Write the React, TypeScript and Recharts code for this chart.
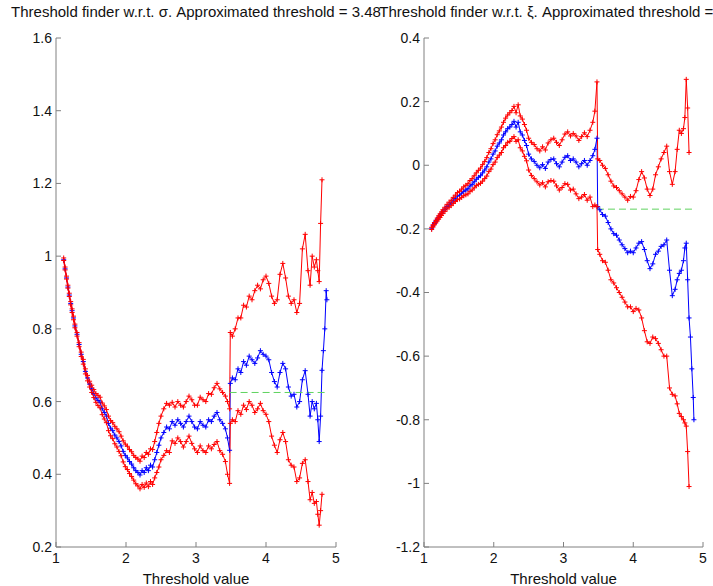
import React from 'react';
import { LineChart, Line, XAxis, YAxis, ReferenceLine } from 'recharts';

const thresholds = [
  1.11, 1.13, 1.15, 1.17, 1.19, 1.21, 1.23, 1.25, 1.27, 1.30,
  1.33, 1.36, 1.39, 1.42, 1.45, 1.48, 1.51, 1.54, 1.57, 1.60,
  1.63, 1.66, 1.69, 1.72, 1.75, 1.78, 1.81, 1.84, 1.87, 1.90,
  1.93, 1.96, 1.99, 2.02, 2.05, 2.08, 2.11, 2.14, 2.17, 2.20,
  2.23, 2.26, 2.29, 2.32, 2.35, 2.38, 2.41, 2.44, 2.47, 2.50,
  2.54, 2.58, 2.62, 2.66, 2.70, 2.74, 2.78, 2.82, 2.86, 2.90,
  2.94, 2.98, 3.02, 3.06, 3.10, 3.14, 3.18, 3.22, 3.26, 3.30,
  3.34, 3.38, 3.42, 3.45, 3.48, 3.49, 3.52, 3.56, 3.60, 3.64,
  3.68, 3.72, 3.76, 3.80, 3.84, 3.88, 3.92, 3.96, 4.00, 4.04,
  4.08, 4.12, 4.16, 4.20, 4.24, 4.28, 4.32, 4.36, 4.40, 4.44,
  4.48, 4.52, 4.56, 4.60, 4.63, 4.66, 4.69, 4.72, 4.74, 4.76,
  4.78, 4.80, 4.82, 4.84, 4.86, 4.87,
];

const sigmaFit = [
  0.99, 0.965, 0.94, 0.915, 0.893, 0.87, 0.85, 0.83, 0.808, 0.785,
  0.757, 0.73, 0.71, 0.683, 0.665, 0.648, 0.635, 0.622, 0.61, 0.603,
  0.598, 0.58, 0.57, 0.56, 0.54, 0.527, 0.52, 0.508, 0.5, 0.49,
  0.478, 0.463, 0.452, 0.445, 0.435, 0.428, 0.418, 0.41, 0.405, 0.398,
  0.41, 0.405, 0.418, 0.41, 0.425, 0.42, 0.44, 0.46, 0.48, 0.5,
  0.515, 0.53, 0.525, 0.545, 0.535, 0.55, 0.54, 0.53, 0.545, 0.56,
  0.545, 0.53, 0.525, 0.545, 0.535, 0.53, 0.55, 0.545, 0.56, 0.57,
  0.55, 0.54, 0.525, 0.5, 0.466, 0.65, 0.665, 0.66, 0.69, 0.68,
  0.71, 0.7, 0.725, 0.715, 0.705, 0.72, 0.74, 0.73, 0.725, 0.715,
  0.68, 0.655, 0.64, 0.68, 0.705, 0.69, 0.64, 0.615, 0.62, 0.585,
  0.6, 0.66, 0.685, 0.62, 0.56, 0.6, 0.58, 0.595, 0.55, 0.49,
  0.56, 0.686, 0.74, 0.8, 0.905, 0.88,
];

const sigmaUpper = [
  0.995, 0.97, 0.945, 0.92, 0.898, 0.875, 0.855, 0.835, 0.813, 0.79,
  0.762, 0.736, 0.716, 0.69, 0.672, 0.656, 0.645, 0.633, 0.622, 0.617,
  0.612, 0.596, 0.588, 0.578, 0.56, 0.548, 0.542, 0.532, 0.525, 0.517,
  0.505, 0.492, 0.483, 0.477, 0.468, 0.462, 0.452, 0.446, 0.442, 0.436,
  0.45, 0.446, 0.46, 0.455, 0.47, 0.468, 0.49, 0.515, 0.54, 0.56,
  0.58, 0.595, 0.59, 0.598, 0.585, 0.6, 0.59, 0.585, 0.6, 0.615,
  0.605, 0.59, 0.59, 0.612, 0.605, 0.6, 0.622, 0.62, 0.638, 0.65,
  0.635, 0.625, 0.615, 0.6, 0.58, 0.79, 0.78, 0.8, 0.83, 0.83,
  0.865, 0.86, 0.89, 0.88, 0.905, 0.92, 0.91, 0.935, 0.945, 0.925,
  0.89, 0.87, 0.88, 0.95, 0.98, 0.94, 0.89, 0.87, 0.88, 0.845,
  0.87, 1.02, 1.06, 0.96, 0.92, 1.0, 0.97, 0.99, 0.96, 0.93,
  1.09, 1.21, null, null, null, null,
];

const sigmaLower = [
  0.988, 0.962, 0.937, 0.912, 0.889, 0.866, 0.845, 0.825, 0.803, 0.78,
  0.751, 0.724, 0.703, 0.676, 0.657, 0.64, 0.625, 0.611, 0.598, 0.589,
  0.583, 0.564, 0.552, 0.542, 0.52, 0.506, 0.498, 0.484, 0.475, 0.463,
  0.451, 0.434, 0.421, 0.413, 0.402, 0.394, 0.384, 0.374, 0.368, 0.36,
  0.372, 0.364, 0.376, 0.366, 0.38, 0.372, 0.39, 0.405, 0.42, 0.44,
  0.452, 0.465, 0.46, 0.492, 0.485, 0.5, 0.49, 0.475, 0.49, 0.505,
  0.485, 0.47, 0.46, 0.478, 0.465, 0.46, 0.478, 0.47, 0.482, 0.49,
  0.465, 0.455, 0.435, 0.4, 0.375, 0.54, 0.55, 0.545, 0.575, 0.565,
  0.59, 0.578, 0.6, 0.59, 0.57, 0.58, 0.595, 0.575, 0.565, 0.545,
  0.505, 0.48, 0.46, 0.495, 0.515, 0.49, 0.44, 0.425, 0.42, 0.38,
  0.39, 0.43, 0.44, 0.38, 0.33, 0.35, 0.32, 0.325, 0.29, 0.26,
  0.3, 0.345, null, null, null, null,
];

const xiFit = [
  -0.198, -0.19, -0.183, -0.177, -0.17, -0.164, -0.158, -0.152, -0.146, -0.138,
  -0.13, -0.124, -0.118, -0.11, -0.104, -0.097, -0.094, -0.088, -0.082, -0.078,
  -0.074, -0.065, -0.06, -0.052, -0.044, -0.038, -0.033, -0.024, -0.015, -0.005,
  0.01, 0.02, 0.035, 0.045, 0.06, 0.07, 0.08, 0.095, 0.105, 0.115,
  0.12, 0.128, 0.138, 0.12, 0.135, 0.105, 0.095, 0.078, 0.062, 0.035,
  0.02, 0.012, 0.0, -0.008, 0.002, -0.01, 0.01, 0.018, 0.02, 0.005,
  -0.005, 0.01, 0.025, 0.03, 0.015, 0.02, 0.01, -0.005, 0.005, 0.015,
  0.0, 0.015, 0.03, 0.05, 0.085, -0.13, -0.14, -0.155, -0.16, -0.18,
  -0.2, -0.215, -0.22, -0.235, -0.25, -0.262, -0.275, -0.27, -0.275, -0.26,
  -0.245, -0.24, -0.265, -0.3, -0.325, -0.31, -0.28, -0.27, -0.255, -0.25,
  -0.235, -0.33, -0.41, -0.39, -0.36, -0.34, -0.33, -0.3, -0.26, -0.245,
  -0.36, -0.48, -0.54, -0.64, -0.73, -0.8,
];

const xiUpper = [
  -0.195, -0.187, -0.18, -0.173, -0.166, -0.159, -0.153, -0.147, -0.14, -0.132,
  -0.123, -0.116, -0.11, -0.101, -0.094, -0.086, -0.082, -0.075, -0.068, -0.063,
  -0.058, -0.048, -0.042, -0.033, -0.024, -0.016, -0.009, 0.002, 0.012, 0.024,
  0.04, 0.052, 0.068, 0.08, 0.096, 0.108, 0.12, 0.135, 0.148, 0.158,
  0.165, 0.172, 0.185, 0.165, 0.19, 0.155, 0.145, 0.128, 0.11, 0.085,
  0.072, 0.065, 0.052, 0.045, 0.058, 0.048, 0.07, 0.08, 0.085, 0.072,
  0.062, 0.08, 0.098, 0.105, 0.092, 0.1, 0.092, 0.078, 0.09, 0.102,
  0.09, 0.11, 0.135, 0.17, 0.262, 0.02, 0.015, 0.0, -0.01, -0.03,
  -0.05, -0.065, -0.07, -0.08, -0.09, -0.1, -0.11, -0.098, -0.1, -0.08,
  -0.045, -0.02, -0.04, -0.075, -0.095, -0.075, -0.03, -0.005, 0.02, 0.04,
  0.06, -0.02, -0.06, -0.02, 0.05, 0.11, 0.1, 0.115, 0.15, 0.27,
  0.18, 0.04, null, null, null, null,
];

const xiLower = [
  -0.202, -0.194, -0.187, -0.181, -0.175, -0.169, -0.164, -0.158, -0.152, -0.145,
  -0.137, -0.132, -0.127, -0.12, -0.114, -0.108, -0.106, -0.101, -0.096, -0.093,
  -0.09, -0.082, -0.078, -0.071, -0.064, -0.06, -0.057, -0.05, -0.042, -0.034,
  -0.02, -0.012, 0.002, 0.01, 0.024, 0.032, 0.04, 0.055, 0.062, 0.072,
  0.075, 0.084, 0.09, 0.075, 0.08, 0.055, 0.045, 0.028, 0.014, -0.015,
  -0.032, -0.042, -0.052, -0.062, -0.055, -0.068, -0.052, -0.048, -0.05, -0.065,
  -0.078, -0.07, -0.058, -0.06, -0.078, -0.075, -0.09, -0.105, -0.1, -0.092,
  -0.11, -0.1, -0.13, -0.125, -0.13, -0.265, -0.28, -0.3, -0.305, -0.33,
  -0.36, -0.37, -0.385, -0.4, -0.415, -0.43, -0.445, -0.445, -0.46, -0.45,
  -0.455, -0.48, -0.52, -0.555, -0.56, -0.54, -0.545, -0.56, -0.58, -0.6,
  -0.6, -0.7, -0.72, -0.725, -0.75, -0.78, -0.79, -0.8, -0.81, -0.82,
  -0.9, -1.01, null, null, null, null,
];

const xTicks = [1, 2, 3, 4, 5];
const sigmaTicks = [0.2, 0.4, 0.6, 0.8, 1, 1.2, 1.4, 1.6];
const xiTicks = [-1.2, -1, -0.8, -0.6, -0.4, -0.2, 0, 0.2, 0.4];
const approxThreshold = 3.48;
const levelEnd = 4.88;
const sigmaLevel = 0.625;
const xiLevel = -0.138;

const sigmaTitle = 'Threshold finder w.r.t. σ. Approximated threshold = 3.48';
const xiTitle = 'Threshold finder w.r.t. ξ. Approximated threshold = 3.48';
const xLabel = 'Threshold value';

const sigmaData = thresholds.map((t, i) => ({ t, est: sigmaFit[i], up: sigmaUpper[i], lo: sigmaLower[i] }));
const xiData = thresholds.map((t, i) => ({ t, est: xiFit[i], up: xiUpper[i], lo: xiLower[i] }));

const FONT = '"Liberation Sans", Arial, Helvetica, sans-serif';
const AXIS = '#808080';
const TEXT = '#111';

const plusDot = (color: string) => (props: any) => {
  const { cx, cy, index } = props;
  if (cx == null || cy == null || Number.isNaN(cx) || Number.isNaN(cy)) return <g key={`n${index}`} />;
  const s = 2.5;
  return (
    <g key={`p${index}`}>
      <line x1={cx - s} y1={cy} x2={cx + s} y2={cy} stroke={color} strokeWidth={1} />
      <line x1={cx} y1={cy - s} x2={cx} y2={cy + s} stroke={color} strokeWidth={1} />
    </g>
  );
};

const blank = () => '';

function Panel(props: {
  left: number;
  width: number;
  marginRight: number;
  data: any[];
  yTicks: number[];
  yDomain: [number, number];
  level: number;
}) {
  const { left, width, marginRight, data, yTicks, yDomain, level } = props;
  return (
    <LineChart
      width={width}
      height={586}
      data={data}
      margin={{ top: 38, right: marginRight, left: 0, bottom: 0 }}
      style={{ position: 'absolute', left, top: 0 }}
    >
      <XAxis
        xAxisId="b"
        dataKey="t"
        type="number"
        domain={[1, 5]}
        ticks={xTicks}
        orientation="bottom"
        height={39}
        tickSize={-5}
        tickMargin={11}
        stroke={AXIS}
        tick={{ fill: TEXT, fontSize: 14, fontFamily: FONT }}
        label={{ value: xLabel, position: 'insideBottom', offset: 2, fill: TEXT, fontSize: 15, fontFamily: FONT }}
        allowDataOverflow
      />
      <XAxis
        xAxisId="t"
        dataKey="t"
        type="number"
        domain={[1, 5]}
        ticks={xTicks}
        orientation="top"
        height={0}
        tickSize={-5}
        tickFormatter={blank}
        stroke={AXIS}
        allowDataOverflow
      />
      <YAxis
        yAxisId="l"
        type="number"
        domain={yDomain}
        ticks={yTicks}
        width={56}
        tickSize={-5}
        tickMargin={9}
        stroke={AXIS}
        tick={{ fill: TEXT, fontSize: 14, fontFamily: FONT }}
        allowDataOverflow
      />
      <YAxis
        yAxisId="r"
        type="number"
        orientation="right"
        domain={yDomain}
        ticks={yTicks}
        width={0}
        tickSize={-5}
        tickFormatter={blank}
        stroke={AXIS}
        allowDataOverflow
      />
      <Line xAxisId="b" yAxisId="l" dataKey="est" stroke="#0000ff" strokeWidth={1} dot={plusDot('#0000ff')} isAnimationActive={false} />
      <Line xAxisId="b" yAxisId="l" dataKey="up" stroke="#ff0000" strokeWidth={1} dot={plusDot('#ff0000')} isAnimationActive={false} />
      <Line xAxisId="b" yAxisId="l" dataKey="lo" stroke="#ff0000" strokeWidth={1} dot={plusDot('#ff0000')} isAnimationActive={false} />
      <ReferenceLine
        xAxisId="b"
        yAxisId="l"
        segment={[{ x: approxThreshold, y: level }, { x: levelEnd, y: level }]}
        stroke="#5fd35f"
        strokeWidth={1}
        strokeDasharray="7 4"
      />
    </LineChart>
  );
}

export default function App() {
  const titleStyle: React.CSSProperties = {
    position: 'absolute',
    top: 4,
    whiteSpace: 'nowrap',
    fontFamily: FONT,
    fontSize: 15,
    color: TEXT,
    transform: 'translateX(-50%)',
    lineHeight: '16px',
  };
  return (
    <div style={{ position: 'absolute', left: 0, top: 0, width: 713, height: 586, overflow: 'hidden', background: '#fff' }}>
      <Panel left={0} width={360} marginRight={24} data={sigmaData} yTicks={sigmaTicks} yDomain={[0.2, 1.6]} level={sigmaLevel} />
      <Panel left={368} width={345} marginRight={10} data={xiData} yTicks={xiTicks} yDomain={[-1.2, 0.4]} level={xiLevel} />
      <div style={{ ...titleStyle, left: 196 }}>{sigmaTitle}</div>
      <div style={{ ...titleStyle, left: 563 }}>{xiTitle}</div>
    </div>
  );
}
